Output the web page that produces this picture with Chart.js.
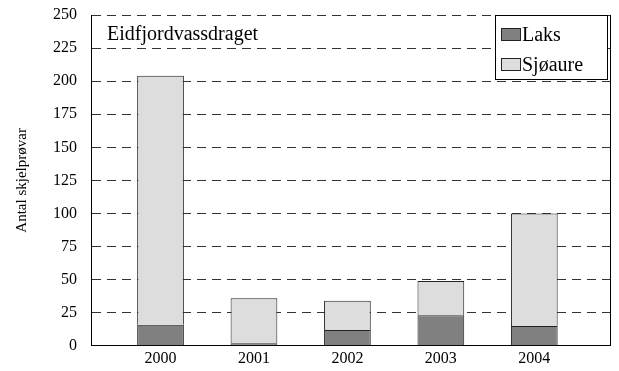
<!DOCTYPE html>
<html>
<head>
<meta charset="utf-8">
<script src="https://cdn.jsdelivr.net/npm/chart.js@4/dist/chart.umd.min.js"></script>
<style>
  body { margin: 0; background: #fff; font-family: 'Liberation Serif', serif; }
  #wrap { width: 619px; height: 371px; }
</style>
</head>
<body>
<div id="wrap"><canvas id="skjel" width="619" height="371"></canvas></div>
<script>
// sample counts per year
const years = [2000, 2001, 2002, 2003, 2004];
const laks = [16, 2, 12, 23, 15];
const sjoaure = [188, 34, 22, 26, 85];
const yTicks = [0, 25, 50, 75, 100, 125, 150, 175, 200, 225, 250];

const serif = "'Liberation Serif', serif";

// text label inside the plot, top left
const areaTitle = {
    id: 'areaTitle',
    afterDatasetsDraw(chart) {
        const ctx = chart.ctx;
        const a = chart.chartArea;
        ctx.save();
        ctx.font = '20px ' + serif;
        ctx.fillStyle = '#000';
        ctx.textBaseline = 'alphabetic';
        ctx.fillText('Eidfjordvassdraget', a.left + 16, a.top + 25);
        ctx.restore();
    }
};

// boxed legend sitting in the top right corner of the plot
const boxLegend = {
    id: 'boxLegend',
    afterDatasetsDraw(chart) {
        const ctx = chart.ctx;
        const a = chart.chartArea;
        const w = 112, h = 64;
        const x = a.right - 115, y = a.top;
        ctx.save();
        ctx.fillStyle = '#fff';
        ctx.fillRect(x, y, w, h);
        ctx.strokeStyle = '#000';
        ctx.lineWidth = 1;
        ctx.strokeRect(x + 0.5, y + 0.5, w, h);
        ctx.font = '20px ' + serif;
        ctx.textBaseline = 'alphabetic';
        chart.data.datasets.forEach(function (ds, i) {
            const sy = y + 13 + i * 30;
            ctx.fillStyle = ds.backgroundColor;
            ctx.fillRect(x + 6, sy, 19, 12);
            ctx.strokeStyle = '#222';
            ctx.strokeRect(x + 6.5, sy + 0.5, 19, 12);
            ctx.fillStyle = '#000';
            ctx.fillText(ds.label, x + 27, y + 26 + i * 30);
        });
        ctx.restore();
    }
};

function drawChart() {
    const ctx = document.getElementById('skjel').getContext('2d');

    new Chart(ctx, {
        type: 'bar',
        data: {
            datasets: [{
                    label: 'Laks',
                    data: years.map((yr, i) => ({ x: yr, y: laks[i] })),
                    backgroundColor: '#808080',
                    borderColor: '#222',
                    borderWidth: 1
                },
                {
                    label: 'Sjøaure',
                    data: years.map((yr, i) => ({ x: yr, y: sjoaure[i] })),
                    backgroundColor: '#dddddd',
                    borderColor: '#222',
                    borderWidth: 1
                }
            ]
        },
        options: {
            responsive: false,
            animation: false,
            categoryPercentage: 1,
            barPercentage: 0.5,
            layout: {
                padding: { left: 5, right: 9, top: 15, bottom: 0 }
            },
            plugins: {
                legend: { display: false },
                tooltip: { enabled: false }
            },
            scales: {
                x: {
                    type: 'linear',
                    stacked: true,
                    offset: false,
                    min: 1999.256,
                    max: 2004.81,
                    afterBuildTicks: function (axis) {
                        axis.ticks = years.map(v => ({ value: v }));
                    },
                    grid: { display: false, drawTicks: false, offset: false },
                    border: { display: true, color: '#000', width: 1 },
                    ticks: {
                        color: '#000',
                        padding: 3,
                        font: { family: serif, size: 16 },
                        callback: v => String(v)
                    }
                },
                y: {
                    stacked: true,
                    min: 0,
                    max: 250,
                    afterBuildTicks: function (axis) {
                        axis.ticks = yTicks.map(v => ({ value: v }));
                    },
                    grid: {
                        drawTicks: true,
                        tickLength: 12,
                        tickColor: 'rgba(0,0,0,0)',
                        color: c => c.tick && c.tick.value === 0 ? 'rgba(0,0,0,0)' : '#333',
                        lineWidth: 1
                    },
                    border: { display: true, color: '#000', width: 1, dash: [9, 6] },
                    ticks: {
                        color: '#000',
                        padding: 2,
                        font: { family: serif, size: 16 }
                    },
                    title: {
                        display: true,
                        text: 'Antal skjelprøvar',
                        color: '#000',
                        font: { family: serif, size: 15 },
                        padding: { top: 8, bottom: 20 }
                    }
                },
                y2: {
                    position: 'right',
                    display: true,
                    grid: { display: false, drawTicks: false },
                    ticks: { display: false, padding: 0 },
                    border: { display: true, color: '#000', width: 1 }
                }
            }
        },
        plugins: [areaTitle, boxLegend]
    });
}

// make sure the serif face is ready before the canvas text is drawn
document.fonts.load("20px 'Liberation Serif'").then(drawChart, drawChart);
</script>
</body>
</html>
